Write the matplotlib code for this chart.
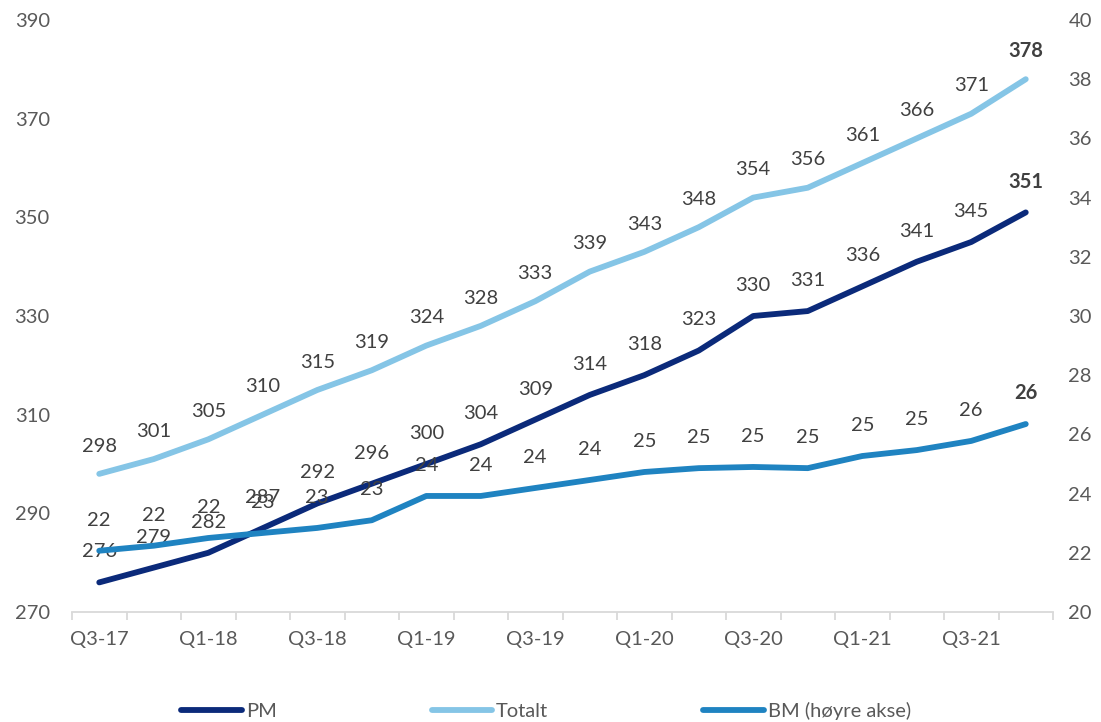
import matplotlib
matplotlib.use("Agg")
import matplotlib.pyplot as plt
from matplotlib.ticker import FixedLocator

quarters = ["Q3-17", "Q4-17", "Q1-18", "Q2-18", "Q3-18", "Q4-18", "Q1-19", "Q2-19",
            "Q3-19", "Q4-19", "Q1-20", "Q2-20", "Q3-20", "Q4-20", "Q1-21", "Q2-21",
            "Q3-21", "Q4-21"]
pm = [276, 279, 282, 287, 292, 296, 300, 304, 309, 314, 318, 323, 330, 331, 336, 341, 345, 351]
totalt = [298, 301, 305, 310, 315, 319, 324, 328, 333, 339, 343, 348, 354, 356, 361, 366, 371, 378]
bm = [22.07, 22.24, 22.5, 22.67, 22.84, 23.1, 23.92, 23.92, 24.19, 24.46, 24.73, 24.86,
      24.9, 24.86, 25.27, 25.47, 25.78, 26.35]

c_pm = "#0B2A7A"
c_tot = "#85C5E6"
c_bm = "#1F83C1"
txt = "#595959"
lbl = "#404040"
fs = 14.5

plt.rcParams['font.family'] = ['Lato', 'DejaVu Sans']

fig = plt.figure(figsize=(11.01, 7.22), dpi=100)
ax = fig.add_axes([72/1101, 110/722, (1053-72)/1101, (612-20)/722])
ax2 = ax.twinx()

x = list(range(len(quarters)))
lw = 4.2
l1, = ax.plot(x, pm, color=c_pm, lw=lw, solid_capstyle='round', label="PM", zorder=3)
l2, = ax.plot(x, totalt, color=c_tot, lw=lw, solid_capstyle='round', label="Totalt", zorder=3)
l3, = ax2.plot(x, bm, color=c_bm, lw=lw, solid_capstyle='round', label="BM (høyre akse)", zorder=3)

ax.set_ylim(270, 390)
ax2.set_ylim(20, 40)
ax.set_xlim(-0.5, len(quarters) - 0.5)
ax.set_yticks(range(270, 391, 20))
ax2.set_yticks(range(20, 41, 2))

for a in (ax, ax2):
    for s in a.spines.values():
        s.set_visible(False)
ax.spines['bottom'].set_visible(True)
ax.spines['bottom'].set_color("#D9D9D9")
ax.spines['bottom'].set_linewidth(1.3)

ax.tick_params(axis='y', length=0, labelsize=fs, labelcolor=txt, pad=16)
ax2.tick_params(axis='y', length=0, labelsize=fs, labelcolor=txt, pad=11)

ax.set_xticks(x[::2])
ax.set_xticklabels(quarters[::2])
ax.tick_params(axis='x', which='major', length=0, labelsize=fs, labelcolor=txt, pad=14)
ax.xaxis.set_minor_locator(FixedLocator([i - 0.5 for i in range(len(quarters) + 1)]))
ax.tick_params(axis='x', which='minor', length=6, width=1.3, color="#D9D9D9")

n = len(quarters)
for i in range(n):
    bold = 'bold' if i == n - 1 else 'normal'
    ax.annotate(str(pm[i]), (x[i], pm[i]), textcoords="offset points", xytext=(0, 22),
                ha='center', va='center', fontsize=fs, color=lbl, fontweight=bold, zorder=5)
    ax.annotate(str(totalt[i]), (x[i], totalt[i]), textcoords="offset points", xytext=(0, 20),
                ha='center', va='center', fontsize=fs, color=lbl, fontweight=bold, zorder=5)
    ax2.annotate(str(int(round(bm[i]))), (x[i], bm[i]), textcoords="offset points", xytext=(0, 22),
                 ha='center', va='center', fontsize=fs, color=lbl, fontweight=bold, zorder=5)

leg = fig.legend(handles=[l1, l2, l3], loc='center', bbox_to_anchor=(0.496, 0.015),
                 ncol=3, frameon=False, fontsize=fs, handlelength=3.0, handletextpad=0.2,
                 columnspacing=7.7)
for t in leg.get_texts():
    t.set_color(txt)

fig.savefig("out.png", dpi=100)
